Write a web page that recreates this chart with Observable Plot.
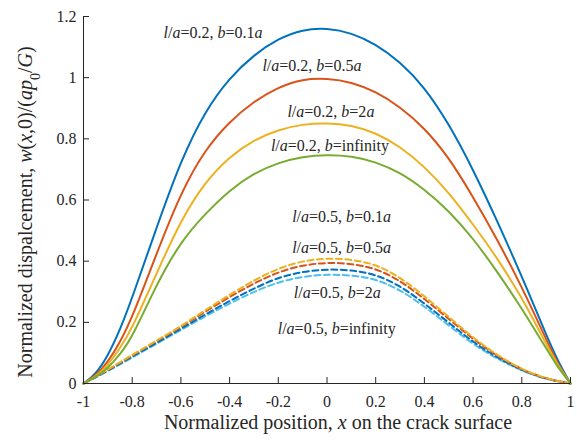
<!DOCTYPE html>
<html><head><meta charset="utf-8">
<script src="https://cdn.jsdelivr.net/npm/d3@7"></script>
<script src="https://cdn.jsdelivr.net/npm/@observablehq/plot@0.6"></script>
<style>html,body{margin:0;padding:0;background:#fff}svg{display:block}</style>
</head><body><div id="chart"></div>
<script>
// ---- data ----
const xSolid = [-1,-0.95,-0.9,-0.85,-0.8,-0.7,-0.6,-0.5,-0.4,-0.3,-0.2,-0.1,0,0.1,0.2,0.3,0.4,0.5,0.6,0.7,0.8,0.85,0.9,0.95,1];
const solid_b01  = [0,0.03,0.09,0.175,0.28,0.51,0.73,0.892,1.0,1.075,1.128,1.158,1.162,1.147,1.11,1.052,0.97,0.85,0.70,0.53,0.35,0.255,0.16,0.07,0];
const solid_b05  = [0,0.025,0.07,0.135,0.215,0.425,0.625,0.766,0.857,0.923,0.969,0.996,0.998,0.986,0.955,0.905,0.836,0.74,0.61,0.47,0.315,0.23,0.145,0.06,0];
const solid_b2   = [0,0.022,0.06,0.115,0.18,0.36,0.535,0.66,0.742,0.797,0.83,0.848,0.852,0.845,0.82,0.775,0.71,0.625,0.52,0.41,0.28,0.205,0.13,0.056,0];
const solid_binf = [0,0.02,0.05,0.095,0.15,0.325,0.465,0.555,0.632,0.688,0.722,0.742,0.748,0.744,0.725,0.69,0.635,0.565,0.475,0.365,0.245,0.18,0.115,0.05,0];

const xDash = [-1,-0.9,-0.8,-0.7,-0.6,-0.5,-0.4,-0.3,-0.2,-0.1,0,0.1,0.2,0.3,0.4,0.5,0.6,0.7,0.8,0.9,1];
const dash_b01  = [0,0.045,0.094,0.14,0.187,0.24,0.29,0.338,0.377,0.401,0.41,0.406,0.39,0.348,0.286,0.218,0.149,0.092,0.046,0.015,0];
const dash_b05  = [0,0.044,0.092,0.138,0.184,0.235,0.283,0.328,0.365,0.387,0.396,0.392,0.377,0.337,0.277,0.211,0.145,0.089,0.045,0.015,0];
const dash_b2   = [0,0.042,0.088,0.133,0.179,0.226,0.27,0.311,0.347,0.366,0.374,0.371,0.357,0.32,0.262,0.199,0.135,0.084,0.043,0.014,0];
const dash_binf = [0,0.04,0.085,0.13,0.175,0.22,0.262,0.30,0.332,0.35,0.357,0.354,0.342,0.307,0.252,0.19,0.128,0.08,0.042,0.013,0];

const xTicks = [-1,-0.8,-0.6,-0.4,-0.2,0,0.2,0.4,0.6,0.8,1];
const yTicks = [0,0.2,0.4,0.6,0.8,1,1.2];

const annText = ["*l*/*a*=0.2, *b*=0.1*a*","*l*/*a*=0.2, *b*=0.5*a*","*l*/*a*=0.2, *b*=2*a*","*l*/*a*=0.2, *b*=infinity",
                 "*l*/*a*=0.5, *b*=0.1*a*","*l*/*a*=0.5, *b*=0.5*a*","*l*/*a*=0.5, *b*=2*a*","*l*/*a*=0.5, *b*=infinity"];
const annX = [-0.468,-0.062,0.016,0.012,0.06,0.06,0.042,0.04];
const annY = [1.145,1.038,0.889,0.778,0.545,0.444,0.297,0.177];

const xTitle = "Normalized position, *x* on the crack surface";
const yTitle = "Normalized dispalcement, *w*(*x*,0)/(*ap*_0_/*G*)";

// ---- build tables ----
const solidSeries = [
  {ys: solid_b01, color: "#0072BD"},
  {ys: solid_b05, color: "#D95319"},
  {ys: solid_b2, color: "#EDB120"},
  {ys: solid_binf, color: "#77AC30"}
];
const dashSeries = [
  {ys: dash_binf, color: "#4DBEEE"},
  {ys: dash_b2, color: "#0072BD"},
  {ys: dash_b05, color: "#D95319"},
  {ys: dash_b01, color: "#EDB120"}
];
const toRows = (xs, ys) => xs.map((x, i) => ({x, y: ys[i]}));
const ann = annText.map((t, i) => ({t, x: annX[i], y: annY[i]}));

const ink = "#262626";
const serif = "Liberation Serif";

const plot = Plot.plot({
  width: 577, height: 440,
  marginLeft: 83, marginRight: 7, marginTop: 16, marginBottom: 57,
  style: "font-family:'Liberation Serif',serif;font-size:16px;color:#262626;background:#fff",
  x: {domain: [-1, 1], label: null},
  y: {domain: [0, 1.2], label: null},
  marks: [
    ...dashSeries.map(s => Plot.line(toRows(xDash, s.ys), {x: "x", y: "y", stroke: s.color, strokeWidth: 2, strokeDasharray: "6,3.5", curve: "basis"})),
    ...solidSeries.map(s => Plot.line(toRows(xSolid, s.ys), {x: "x", y: "y", stroke: s.color, strokeWidth: 2, curve: "basis"})),
    Plot.ruleY([0], {stroke: ink, strokeWidth: 1}),
    Plot.ruleX([-1], {stroke: ink, strokeWidth: 1}),
    Plot.tickX(xTicks, {x: d => d, stroke: ink, insetTop: 361}),
    Plot.tickY(yTicks, {y: d => d, stroke: ink, insetRight: 481}),
    Plot.axisX({ticks: xTicks, tickSize: 0, tickPadding: 12, tickFormat: d => String(d), label: null, fill: ink, fontSize: 16, fontFamily: serif}),
    Plot.axisY({ticks: yTicks, tickSize: 0, tickPadding: 7, tickFormat: d => String(d), label: null, fill: ink, fontSize: 16, fontFamily: serif}),
    Plot.text(ann, {x: "x", y: "y", text: "t", fill: ink, fontSize: 16, fontFamily: serif}),
    Plot.text([xTitle], {frameAnchor: "bottom", textAnchor: "middle", dx: 11, dy: 45, text: d => d, fill: ink, fontSize: 20, fontFamily: serif}),
    Plot.text([yTitle], {frameAnchor: "left", textAnchor: "middle", rotate: -90, dx: -58, dy: 12, text: d => d, fill: ink, fontSize: 20, fontFamily: serif})
  ]
});

// rich text: *italic*, _subscript_
d3.select(plot).selectAll("text").each(function () {
  const el = d3.select(this);
  const s = el.text();
  if (!/[*_]/.test(s)) return;
  el.text(null);
  for (const m of s.match(/\*[^*]+\*|_[^_]+_|[^*_]+/g)) {
    if (m[0] === "*") el.append("tspan").attr("font-style", "italic").text(m.slice(1, -1));
    else if (m[0] === "_") el.append("tspan").attr("baseline-shift", "sub").attr("font-size", "70%").text(m.slice(1, -1));
    else el.append("tspan").text(m);
  }
});

document.getElementById("chart").append(plot);
</script>
</body></html>
